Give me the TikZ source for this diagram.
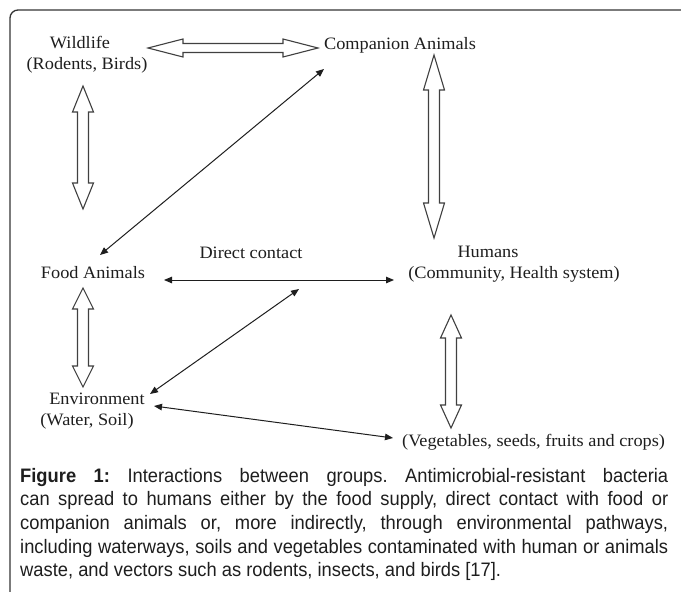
\documentclass[tikz,border=0pt]{standalone}
\usepackage{fontspec}
\setmainfont{Liberation Serif}
\newfontfamily\diagfont[FakeStretch=1.05]{Liberation Serif}
\newfontfamily\capfont[FakeStretch=0.94]{Liberation Sans}
\usetikzlibrary{arrows.meta,calc}
\definecolor{ink}{HTML}{1E1E1E}
% vertical hollow double arrow: x, ytop, ybottom, head length
\newcommand\vhollow[4]{%
  \draw[hollow] (#1,#2) -- (#1+10.5,#2+#4) -- (#1+5.5,#2+#4) -- (#1+5.5,#3-#4)
    -- (#1+10.5,#3-#4) -- (#1,#3) -- (#1-10.5,#3-#4) -- (#1-5.5,#3-#4)
    -- (#1-5.5,#2+#4) -- (#1-10.5,#2+#4) -- cycle;}
% horizontal hollow double arrow: xleft, xright, y, head length
\newcommand\hhollow[4]{%
  \draw[hollow] (#1,#3) -- (#1+#4,#3-9) -- (#1+#4,#3-4.5) -- (#2-#4,#3-4.5)
    -- (#2-#4,#3-9) -- (#2,#3) -- (#2-#4,#3+9) -- (#2-#4,#3+4.5)
    -- (#1+#4,#3+4.5) -- (#1+#4,#3+9) -- cycle;}
\begin{document}
\begin{tikzpicture}[x=1pt,y=-1pt,
  lbl/.style={inner sep=0pt, text=ink, font=\diagfont\fontsize{17.4}{21}\selectfont},
  hollow/.style={draw=ink!85, line width=1.1pt, line join=miter, fill=white},
  thinarrow/.style={draw=ink, line width=1pt, {Triangle[length=8pt,width=6.5pt]}-{Triangle[length=8pt,width=6.5pt]}},
  capnode/.style={inner sep=0pt, text width=648pt, align=justify, text=ink,
    font=\capfont\fontsize{19.5}{23.6}\selectfont\frenchspacing},
  frame/.style={draw=ink!90, line width=1.3pt, rounded corners=8pt}]
\useasboundingbox (0,0) rectangle (681,592);
\clip (0,0) rectangle (681,592);
\fill[white] (0,0) rectangle (681,592);
\draw[frame] (10,610) -- (10,10) -- (700,10);

% labels
\node[lbl, align=center] (wild) at (87,55) {Wildlife\rule{14pt}{0pt}\\(Rodents, Birds)};
\node[lbl] (comp) at (400,45) {Companion Animals};
\node[lbl] (food) at (93,273) {Food Animals};
\node[lbl] (direct) at (251,253) {Direct contact};
\node[lbl, align=center] (hum) at (514,264.5) {Humans\rule{52pt}{0pt}\\(Community, Health system)};
\node[lbl, align=center] (env) at (87,411.5) {\rule{20pt}{0pt}Environment\\(Water, Soil)};
\node[lbl, anchor=west] (veg) at (402,442) {(Vegetables, seeds, fruits and crops)};
\coordinate (mid) at (299,289);

% hollow double arrows
\hhollow{148}{318}{48}{35}
\vhollow{83}{86}{209}{26}
\vhollow{83}{288}{387}{21}
\vhollow{434}{55}{238}{35}
\vhollow{451}{315}{428}{23}

% thin double arrows
\draw[thinarrow] ($(food)+(7,-18)$) -- ($(comp)+(-76,24)$);
\draw[thinarrow] ($(food)+(71,7)$) -- ($(hum)+(-120,15.5)$);
\draw[thinarrow] ($(env)+(63,-17.5)$) -- (mid);
\draw[thinarrow] ($(env)+(67,-5.5)$) -- ($(veg.west)+(-9,-4)$);

% caption
\node[capnode, anchor=north west] (cap) at (20,468) {\textbf{Figure 1:} Interactions between groups. Antimicrobial-resistant bacteria\linebreak
can spread to humans either by the food supply, direct contact with food or\linebreak
companion animals or, more indirectly, through environmental pathways,\linebreak
including waterways, soils and vegetables contaminated with human or animals\linebreak
waste, and vectors such as rodents, insects, and birds [17].};
\end{tikzpicture}
\end{document}
